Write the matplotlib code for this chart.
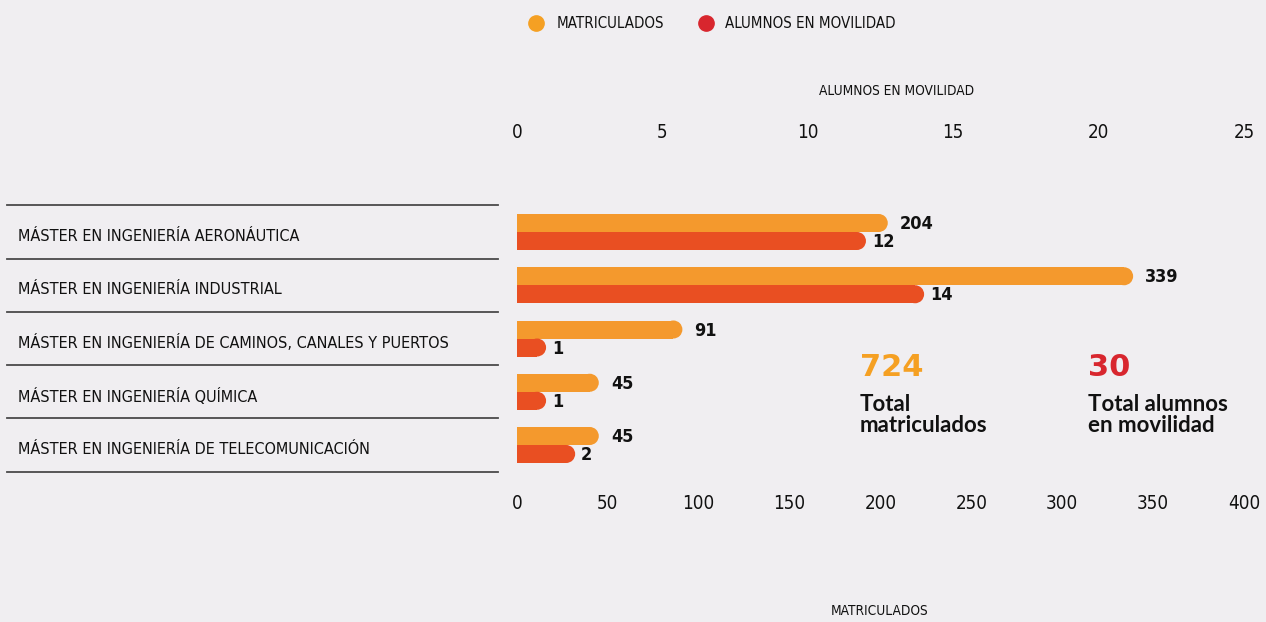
import matplotlib
matplotlib.use("Agg")
import matplotlib.pyplot as plt
import matplotlib.transforms as mtransforms
from matplotlib.lines import Line2D
from matplotlib.patches import Ellipse

programs = [
    "MÁSTER EN INGENIERÍA AERONÁUTICA",
    "MÁSTER EN INGENIERÍA INDUSTRIAL",
    "MÁSTER EN INGENIERÍA DE CAMINOS, CANALES Y PUERTOS",
    "MÁSTER EN INGENIERÍA QUÍMICA",
    "MÁSTER EN INGENIERÍA DE TELECOMUNICACIÓN",
]
matriculados = [204, 339, 91, 45, 45]
movilidad = [12, 14, 1, 1, 2]
ticks_matric = [0, 50, 100, 150, 200, 250, 300, 350, 400]
ticks_movil = [0, 5, 10, 15, 20, 25]

BG = "#f0eef1"
ORANGE = "#f4992d"
RED_BAR = "#e94f22"
ORANGE_DOT = "#f5a023"
RED_DOT = "#d8262e"
TEXT = "#111111"

plt.rcParams["font.family"] = ["DejaVu Sans"]
plt.rcParams["font.stretch"] = "condensed"

W, H = 1266, 622
fig = plt.figure(figsize=(W / 100, H / 100), dpi=100, facecolor=BG)

# axes box in pixels (from top-left)
ax_l, ax_r, ax_t, ax_b = 517, 1244, 145, 488
ax = fig.add_axes([ax_l / W, 1 - ax_b / H, (ax_r - ax_l) / W, (ax_b - ax_t) / H])
ax.set_facecolor(BG)
ax2 = ax.twiny()

row_px = 53.25
y0_px = 232
ax.set_ylim((ax_b - y0_px) / row_px, (ax_t - y0_px) / row_px)
ax.set_xlim(0, 400)
ax2.set_xlim(0, 25)

bar_h = 18 / row_px
ax_w_px = ax_r - ax_l


def rounded_bar(axis, y, value, xmax, color):
    r = 9 * xmax / ax_w_px
    axis.barh(y, value - r, left=0, height=bar_h, color=color, linewidth=0)
    axis.add_patch(Ellipse((value - r, y), 2 * r, bar_h, color=color, linewidth=0))


for i, (m, a) in enumerate(zip(matriculados, movilidad)):
    yo = i - bar_h / 2
    yr = i + bar_h / 2
    rounded_bar(ax, yo, m, 400, ORANGE)
    rounded_bar(ax2, yr, a, 25, RED_BAR)
    ax.annotate(str(m), (m, yo), xytext=(12, -1), textcoords="offset pixels",
                va="center", ha="left", fontsize=13, fontweight="bold", color=TEXT)
    ax2.annotate(str(a), (a, yr), xytext=(6, -1), textcoords="offset pixels",
                 va="center", ha="left", fontsize=13, fontweight="bold", color=TEXT)

for a in (ax, ax2):
    for s in a.spines.values():
        s.set_visible(False)
    a.tick_params(length=0, labelsize=13.5, colors=TEXT)
    a.set_yticks([])

ax.set_xticks(ticks_matric)
ax.tick_params(axis="x", pad=4)
ax2.set_xticks(ticks_movil)
ax2.tick_params(axis="x", pad=2.5)

# left labels and separators
blend = mtransforms.blended_transform_factory(fig.transFigure, ax.transData)
for k in range(len(programs) + 1):
    ax.plot([7 / W, 498 / W], [k - 0.5, k - 0.5], transform=blend, clip_on=False,
            color="#4a4a4a", linewidth=1.3)
for i, name in enumerate(programs):
    ax.text(18 / W, i + 0.08, name, transform=blend, va="center", ha="left",
            fontsize=11.6, color=TEXT)

# axis titles
fig.text(897 / W, 1 - 91 / H, "ALUMNOS EN MOVILIDAD", ha="center", va="center",
         fontsize=9.8, color=TEXT)
fig.text(880 / W, 1 - 611 / H, "MATRICULADOS", ha="center", va="center",
         fontsize=9.8, color=TEXT)

# legend
for x_dot, x_txt, color, label in [(536, 557, ORANGE_DOT, "MATRICULADOS"),
                                   (706, 725, RED_DOT, "ALUMNOS EN MOVILIDAD")]:
    fig.add_artist(Line2D([x_dot / W], [1 - 23 / H], marker="o", markersize=11,
                          color=color, linestyle="none", transform=fig.transFigure))
    fig.text(x_txt / W, 1 - 24 / H, label, ha="left", va="center", fontsize=10.8, color=TEXT)

# totals
for x, value, color, label in [(860, sum(matriculados), ORANGE_DOT, "Total\nmatriculados"),
                               (1088, sum(movilidad), RED_DOT, "Total alumnos\nen movilidad")]:
    fig.text(x / W, 1 - 368 / H, str(value), ha="left", va="center", fontsize=22,
             fontweight="bold", family="DejaVu Sans", stretch="normal", color=color)
    fig.text(x / W, 1 - 394 / H, label, ha="left", va="top", fontsize=16,
             fontweight="bold", family="Lato", stretch="normal", color=TEXT,
             linespacing=1.0)

fig.savefig("out.png", dpi=100, facecolor=BG)
